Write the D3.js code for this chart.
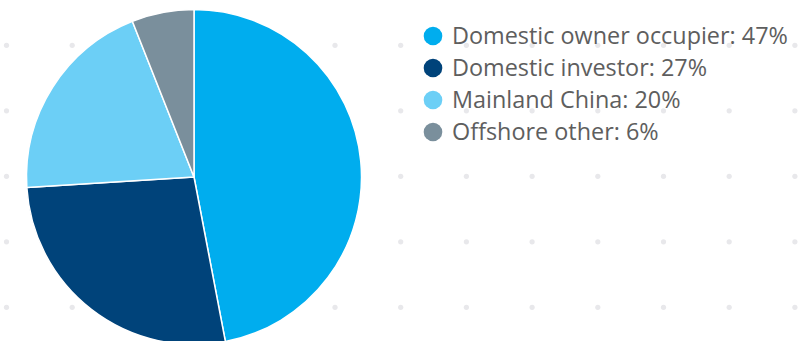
<!DOCTYPE html>
<html>
<head>
<meta charset="utf-8">
<script src="https://cdn.jsdelivr.net/npm/d3@7"></script>
<style>
  body { margin: 0; background: #fff; }
  svg { display: block; }
</style>
</head>
<body>
<div id="vis"></div>
<script>
// data
var categories = ['Domestic owner occupier', 'Domestic investor', 'Mainland China', 'Offshore other'];
var shares = [47, 27, 20, 6];
var colors = ['#00adee', '#00437a', '#6ccff6', '#7a8f9c'];

var width = 802, height = 341;

var svg = d3.select('#vis')
    .append('svg')
        .attr('width', width)
        .attr('height', height);

// background dot grid
var dotX = d3.range(0, 13).map(function(k) { return 6.5 + k * 65.7; });
var dotY = d3.range(0, 5).map(function(k) { return 45.3 + k * 65.5; });
var dots = [];
dotY.forEach(function(y) { dotX.forEach(function(x) { dots.push([x, y]); }); });

svg.append('g')
    .selectAll('circle')
    .data(dots)
    .enter()
    .append('circle')
        .attr('cx', function(d) { return d[0]; })
        .attr('cy', function(d) { return d[1]; })
        .attr('r', 2.6)
        .attr('fill', '#e8e8eb');

// pie
var data = categories.map(function(c, i) { return { name: c, value: shares[i], fill: colors[i] }; });

var pie = d3.pie()
    .sort(null)
    .value(function(d) { return d.value; });

var arc = d3.arc()
    .innerRadius(0)
    .outerRadius(167.5);

svg.append('g')
    .attr('transform', 'translate(194,177)')
    .selectAll('path')
    .data(pie(data))
    .enter()
    .append('path')
        .attr('d', arc)
        .attr('fill', function(d) { return d.data.fill; })
        .attr('stroke', '#fff')
        .attr('stroke-width', 1.5)
        .attr('stroke-linejoin', 'round');

// legend
var legend = svg.append('g')
    .attr('transform', 'translate(433,36)');

var item = legend.selectAll('g')
    .data(data)
    .enter()
    .append('g')
        .attr('transform', function(d, i) { return 'translate(0,' + (i * 32) + ')'; });

item.append('circle')
    .attr('r', 9.3)
    .attr('fill', function(d) { return d.fill; });

item.append('text')
    .attr('x', 19)
    .attr('y', 8.3)
    .attr('font-family', 'Open Sans, sans-serif')
    .attr('font-size', 23.4)
    .attr('fill', '#5e5e5e')
    .text(function(d) { return d.name + ': ' + d.value + '%'; });
</script>
</body>
</html>
